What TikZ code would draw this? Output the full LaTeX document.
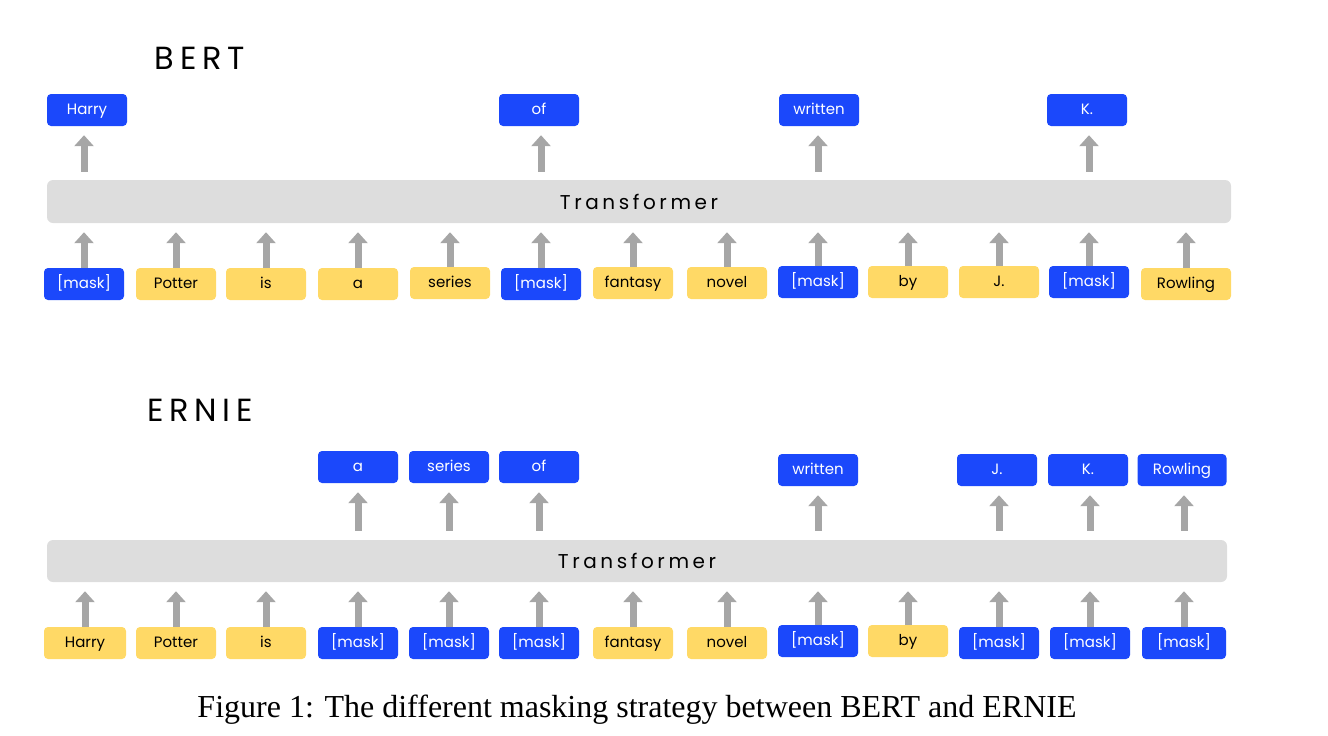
\documentclass[tikz,border=0pt]{standalone}
\usepackage{fontspec}
\setmainfont{Liberation Serif}
\newfontfamily\gothic{Poppins}
\newfontfamily\gothicwide{Poppins}[LetterSpace=18]
\usetikzlibrary{arrows.meta}
\definecolor{tokblue}{HTML}{1B48FB}
\definecolor{tokyellow}{HTML}{FFD966}
\definecolor{bargray}{HTML}{DDDDDD}
\definecolor{arrowgray}{HTML}{A6A6A6}
\tikzset{
  tok/.style={rounded corners=4pt, minimum width=80pt, minimum height=32pt, inner sep=0pt,
    font=\gothic\fontsize{15}{17}\selectfont, text height=11pt, text depth=2pt},
  bluetok/.style={tok, fill=tokblue, text=white},
  yellowtok/.style={tok, fill=tokyellow, text=black},
  bar/.style={rounded corners=6pt, fill=bargray, inner sep=0pt, font=\gothicwide\fontsize{20}{24}\selectfont},
  title/.style={font=\gothicwide\fontsize{32}{36}\selectfont, inner sep=0pt},
  uparrow/.style={draw=arrowgray, line width=7pt, -{Triangle[length=11pt,width=19pt]}},
}
\begin{document}
\begin{tikzpicture}[x=1pt,y=-1pt]
\useasboundingbox (0,0) rectangle (1328,736);

% ---------------- BERT ----------------
\node[title] (tbert) at (200,58) {BERT};
\node[bar, minimum width=1184pt, minimum height=43pt] (barA) at (639,201.5) {Transformer};

\node[bluetok]   (a1)  at (84,284)  {[mask]};
\node[yellowtok] (a2)  at (176,284) {Potter};
\node[yellowtok] (a3)  at (266,284) {is};
\node[yellowtok] (a4)  at (358,284) {a};
\node[yellowtok] (a5)  at (450,283) {series};
\node[bluetok]   (a6)  at (541,284) {[mask]};
\node[yellowtok] (a7)  at (633,283) {fantasy};
\node[yellowtok] (a8)  at (727,283) {novel};
\node[bluetok]   (a9)  at (818,282) {[mask]};
\node[yellowtok] (a10) at (908,282) {by};
\node[yellowtok] (a11) at (999,282) {J.};
\node[bluetok]   (a12) at (1089,282) {[mask]};
\node[yellowtok, minimum width=90pt] (a13) at (1186,284) {Rowling};

\foreach \i in {1,...,13}{
  \draw[uparrow, shorten >=9pt] (a\i.north) -- (a\i.north |- barA.south);
}

\node[bluetok] (oa1)  at (87,110)  {Harry};
\node[bluetok] (oa6)  at (539,110) {of};
\node[bluetok] (oa9)  at (819,110) {written};
\node[bluetok] (oa12) at (1087,110) {K.};

\foreach \i in {1,6,9,12}{
  \draw[uparrow, shorten <=8pt, shorten >=9pt] (barA.north -| a\i.north) -- (a\i.north |- oa\i.south);
}

% ---------------- ERNIE ----------------
\node[title] (ternie) at (200,410) {ERNIE};
\node[bar, minimum width=1180pt, minimum height=42pt] (barB) at (637,561) {Transformer};

\node[yellowtok, minimum width=82pt] (b1)  at (85,643)  {Harry};
\node[yellowtok] (b2)  at (176,643) {Potter};
\node[yellowtok] (b3)  at (266,643) {is};
\node[bluetok]   (b4)  at (358,643) {[mask]};
\node[bluetok]   (b5)  at (449,643) {[mask]};
\node[bluetok]   (b6)  at (539,643) {[mask]};
\node[yellowtok] (b7)  at (633,643) {fantasy};
\node[yellowtok] (b8)  at (727,643) {novel};
\node[bluetok]   (b9)  at (818,641) {[mask]};
\node[yellowtok] (b10) at (908,641) {by};
\node[bluetok]   (b11) at (999,643) {[mask]};
\node[bluetok]   (b12) at (1090,643) {[mask]};
\node[bluetok, minimum width=84pt] (b13) at (1184,643) {[mask]};

\foreach \i in {1,...,13}{
  \draw[uparrow, shorten >=9pt] (b\i.north) -- (b\i.north |- barB.south);
}

\node[bluetok] (ob4)  at (358,467) {a};
\node[bluetok] (ob5)  at (449,467) {series};
\node[bluetok] (ob6)  at (539,467) {of};
\node[bluetok] (ob9)  at (818,470) {written};
\node[bluetok] (ob11) at (997,470) {J.};
\node[bluetok] (ob12) at (1088,470) {K.};
\node[bluetok, minimum width=89pt] (ob13) at (1182,470) {Rowling};

\foreach \i in {4,5,6,9,11,12,13}{
  \draw[uparrow, shorten <=9pt, shorten >=9pt] (barB.north -| b\i.north) -- (b\i.north |- ob\i.south);
}

% ---------------- caption ----------------
\node[font=\fontsize{32}{36}\selectfont, inner sep=0pt] (cap) at (637,710)
  {Figure 1: The different masking strategy between BERT and ERNIE};
\end{tikzpicture}
\end{document}
